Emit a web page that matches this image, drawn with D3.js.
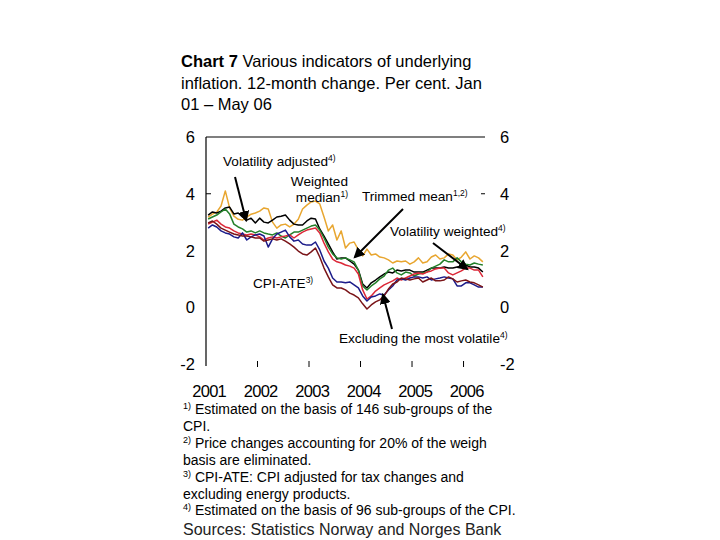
<!DOCTYPE html>
<html><head><meta charset="utf-8">
<script src="https://cdn.jsdelivr.net/npm/d3@7"></script>
<style>
html,body{margin:0;padding:0;background:#fff;}
svg{display:block;font-family:"Liberation Sans",Arial,Helvetica,sans-serif;}
</style></head>
<body>
<svg id="chart" width="720" height="540"></svg>
<script>
// Monthly data, Jan 2001 – May 2006 (65 months), 12-month change, per cent
const weightedMedian = [3.18,3.28,3.35,3.57,4.1,3.5,3.21,3.1,3.07,3.18,3.28,3.32,
  3.39,3.5,3.46,3.0,2.79,2.9,2.93,2.83,2.93,3.1,3.46,3.6,
  3.71,3.74,3.64,3.18,2.69,2.9,2.37,2.69,2.09,2.26,2.3,2.02,
  1.81,2.05,1.84,1.88,1.77,1.74,1.67,1.56,1.63,1.6,1.63,1.52,
  1.6,1.74,1.56,1.6,1.77,1.84,1.7,1.74,1.88,1.84,1.67,1.77,
  1.95,1.7,1.81,1.74,1.6];
const volatilityAdjusted = [3.25,3.36,3.32,3.39,3.5,3.53,3.29,3.32,3.18,3.07,3.14,2.97,
  3.14,3.0,2.97,3.07,3.18,3.21,3.25,3.07,2.93,2.9,2.9,3.04,
  3.14,3.11,2.76,2.51,2.23,1.95,1.7,1.74,1.74,1.63,1.52,1.31,
  0.82,0.68,0.86,0.96,1.07,1.17,1.24,1.21,1.31,1.28,1.31,1.31,
  1.24,1.24,1.24,1.31,1.38,1.38,1.38,1.42,1.38,1.38,1.42,1.45,
  1.49,1.42,1.42,1.38,1.24];
const trimmedMean = [3.11,3.18,3.25,3.36,3.46,3.29,2.93,2.83,2.76,2.65,2.69,2.62,
  2.69,2.62,2.58,2.55,2.62,2.51,2.44,2.55,2.65,2.65,2.72,2.79,
  2.86,2.9,2.72,2.44,2.12,1.88,1.74,1.7,1.74,1.67,1.6,1.31,
  0.75,0.61,0.75,0.86,1.0,1.1,1.31,1.38,1.21,1.14,1.24,1.21,
  1.1,1.17,1.21,1.24,1.38,1.45,1.52,1.67,1.6,1.6,1.74,1.6,
  1.52,1.49,1.56,1.52,1.49];
const volatilityWeighted = [2.93,3.0,3.07,2.93,2.83,2.79,2.69,2.62,2.58,2.55,2.58,2.55,
  2.48,2.37,2.44,2.48,2.44,2.48,2.51,2.55,2.44,2.55,2.65,2.72,
  2.76,2.79,2.62,2.26,1.95,1.7,1.6,1.56,1.49,1.45,1.38,1.17,
  0.61,0.29,0.4,0.57,0.68,0.79,0.86,0.93,1.03,0.96,1.03,1.1,
  1.17,1.21,1.17,1.24,1.28,1.35,1.38,1.38,1.21,1.14,1.21,1.28,
  1.38,1.38,1.31,1.31,1.07];
const cpiAte = [2.79,2.9,2.83,2.69,2.62,2.58,2.48,2.44,2.62,2.37,2.48,2.55,
  2.58,2.51,2.12,2.41,2.58,2.65,2.72,2.48,2.33,2.37,2.23,2.19,
  2.19,2.3,2.02,1.63,1.38,1.03,0.89,0.89,0.86,0.89,0.79,0.68,
  0.4,0.22,0.36,0.4,0.47,0.43,0.61,0.75,0.96,1.0,0.96,1.03,
  1.07,1.07,1.03,1.07,0.96,1.0,1.03,1.07,1.03,1.0,0.75,0.75,
  0.86,0.86,0.79,0.71,0.71];
const excludingMostVolatile = [2.97,3.04,2.93,2.79,2.72,2.65,2.58,2.55,2.51,2.51,2.48,2.44,
  2.44,2.33,2.37,2.41,2.37,2.41,2.33,2.23,2.12,1.98,1.88,1.84,
  1.95,2.09,1.77,1.38,1.07,0.79,0.68,0.68,0.61,0.5,0.43,0.33,
  0.12,-0.06,0.08,0.19,0.26,0.4,0.64,0.82,0.89,1.03,1.0,0.96,
  1.0,1.03,0.89,0.96,1.03,0.93,0.93,0.96,1.07,1.0,0.89,0.93,
  0.96,0.89,0.86,0.79,0.71];

const yearLabels = ["2001","2002","2003","2004","2005","2006"];
const yTicks = [6,4,2,0,-2];
const seriesNames = ["Weighted median","Volatility adjusted","Trimmed mean","Volatility weighted","CPI-ATE","Excluding the most volatile"];
const seriesColors = ["#E8A630","#000000","#24802A","#DC2838","#1C1C8A","#7A1418"];
const seriesData = [weightedMedian, volatilityAdjusted, trimmedMean, volatilityWeighted, cpiAte, excludingMostVolatile];

const svg = d3.select("#chart");
const nMonths = weightedMedian.length;

const x = d3.scaleLinear().domain([-0.5, nMonths - 0.5]).range([206, 485]);
const y = d3.scaleLinear().domain([-2, 6]).range([364, 137]);

// Title
const tl = [["Chart 7", " Various indicators of underlying"], [null, "inflation. 12-month change. Per cent. Jan"], [null, "01 – May 06"]];
tl.forEach((l, i) => {
  const t = svg.append("text").attr("x", 181).attr("y", 67 + i * 21.5).attr("font-size", 16.5).attr("fill", "#000");
  if (l[0]) t.append("tspan").attr("font-weight", "bold").text(l[0]);
  t.append("tspan").text(l[1]);
});

// Frame: top line and left axis
svg.append("line").attr("x1", x(-0.5)).attr("x2", x(nMonths - 0.5)).attr("y1", y(6)).attr("y2", y(6))
  .attr("stroke", "#000").attr("stroke-width", 1.2);
svg.append("line").attr("x1", x(-0.5)).attr("x2", x(-0.5)).attr("y1", y(6)).attr("y2", y(-2) + 2)
  .attr("stroke", "#000").attr("stroke-width", 1.2);
// small ticks at 4
svg.append("line").attr("x1", x(-0.5)).attr("x2", x(-0.5) + 5).attr("y1", y(4)).attr("y2", y(4)).attr("stroke", "#000");
svg.append("line").attr("x1", x(nMonths - 0.5) - 4).attr("x2", x(nMonths - 0.5)).attr("y1", y(4)).attr("y2", y(4)).attr("stroke", "#000");

// Year boundary ticks
d3.range(1, yearLabels.length).forEach(k => {
  svg.append("line").attr("x1", x(12 * k - 0.5)).attr("x2", x(12 * k - 0.5))
    .attr("y1", y(-2) - 3).attr("y2", y(-2) + 3).attr("stroke", "#000");
});

// Y labels left and right
yTicks.forEach(v => {
  svg.append("text").attr("x", 195).attr("y", y(v) + 6).attr("text-anchor", "end")
    .attr("font-size", 16.5).text(v);
  svg.append("text").attr("x", 500).attr("y", y(v) + 6).attr("text-anchor", "start")
    .attr("font-size", 16.5).text(v);
});

// Year labels
yearLabels.forEach((lab, k) => {
  svg.append("text").attr("x", x(12 * k) + 1).attr("y", 397).attr("text-anchor", "middle")
    .attr("font-size", 16.5).attr("letter-spacing", -0.7).text(lab);
});

// Lines
const line = d3.line().x((d, i) => x(i)).y(d => y(d));
seriesData.forEach((s, j) => {
  svg.append("path").datum(s).attr("d", line).attr("fill", "none")
    .attr("stroke", seriesColors[j]).attr("stroke-width", 1.5).attr("stroke-linejoin", "round");
});

// Arrow marker
svg.append("defs").append("marker").attr("id", "ah").attr("viewBox", "0 0 10 10")
  .attr("refX", 8).attr("refY", 5).attr("markerWidth", 5.5).attr("markerHeight", 5.5)
  .attr("markerUnits", "strokeWidth")
  .attr("orient", "auto").append("path").attr("d", "M0,0 L10,5 L0,10 z").attr("fill", "#000");

function label(xp, yp, parts, anchor) {
  const t = svg.append("text").attr("x", xp).attr("y", yp).attr("font-size", 13.6).attr("text-anchor", anchor || "start");
  parts.forEach(p => {
    if (p.sup) t.append("tspan").attr("font-size", 8.5).attr("dy", -5).text(p.sup);
    else t.append("tspan").text(p.t);
  });
  return t;
}
function arrow(x1, y1, x2, y2) {
  svg.append("line").attr("x1", x1).attr("y1", y1).attr("x2", x2).attr("y2", y2)
    .attr("stroke", "#000").attr("stroke-width", 2).attr("marker-end", "url(#ah)");
}

label(223, 166, [{t: "Volatility adjusted"}, {sup: "4)"}]);
arrow(235, 177, 246, 220);
label(348, 186, [{t: "Weighted"}], "end");
label(348, 202, [{t: "median"}, {sup: "1)"}], "end");
label(362, 201, [{t: "Trimmed mean"}, {sup: "1,2)"}]);
arrow(403, 209, 355, 257);
label(390, 236, [{t: "Volatility weighted"}, {sup: "4)"}]);
arrow(433, 243, 467, 269);
label(253, 288, [{t: "CPI-ATE"}, {sup: "3)"}]);
label(339, 343, [{t: "Excluding the most volatile"}, {sup: "4)"}]);
arrow(392, 329, 383, 295);

// Footnotes
const notes = [
  ["1)", "Estimated on the basis of 146 sub-groups of the"],
  [null, "CPI."],
  ["2)", "Price changes accounting for 20% of the weigh"],
  [null, "basis are eliminated."],
  ["3)", "CPI-ATE: CPI adjusted for tax changes and"],
  [null, "excluding energy products."],
  ["4)", "Estimated on the basis of 96 sub-groups of the CPI."]
];
notes.forEach((n, i) => {
  const t = svg.append("text").attr("x", 183).attr("y", 414 + i * 16.9).attr("font-size", 14);
  if (n[0]) {
    t.append("tspan").attr("font-size", 9).attr("dy", -5).text(n[0]);
    t.append("tspan").attr("dy", 5).text(" " + n[1]);
  } else t.append("tspan").text(n[1]);
});
svg.append("text").attr("x", 183).attr("y", 535).attr("font-size", 16).attr("fill", "#222")
  .text("Sources: Statistics Norway and Norges Bank");
</script>
</body></html>
